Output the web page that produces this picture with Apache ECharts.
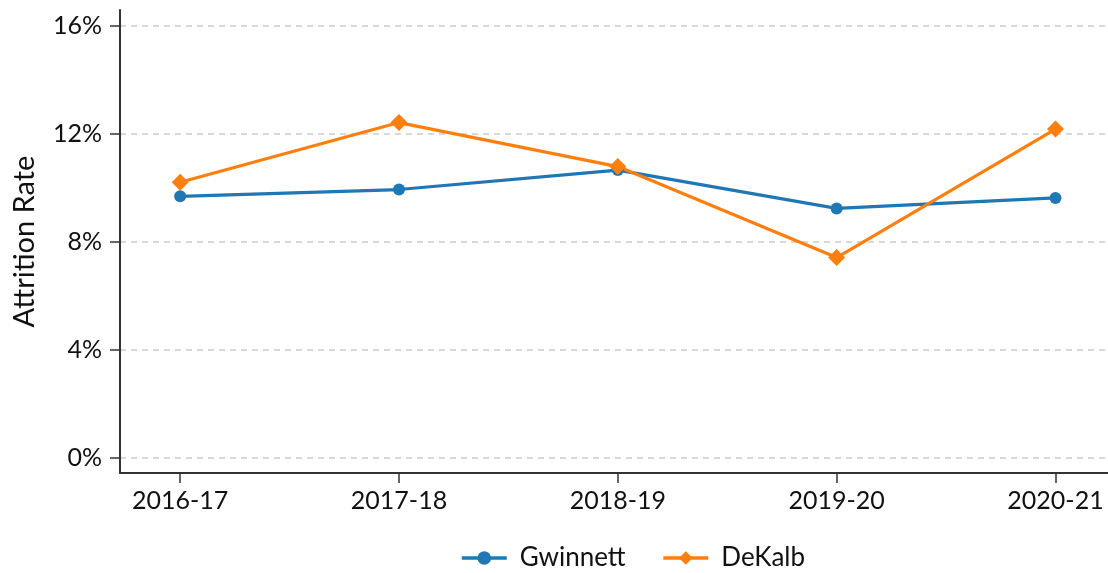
<!DOCTYPE html>
<html>
<head>
<meta charset="utf-8">
<script src="https://cdn.jsdelivr.net/npm/echarts@6/dist/echarts.min.js"></script>
<style>
  html, body { margin: 0; padding: 0; background: #fff; }
  #chart { width: 1108px; height: 573px; }
</style>
</head>
<body>
<div id="chart"></div>
<script>
  // school years on the x axis
  var years = ['2016-17', '2017-18', '2018-19', '2019-20', '2020-21']
  // attrition rate, in percent
  var gwinnett = [9.70, 9.95, 10.67, 9.25, 9.64]
  var dekalb = [10.22, 12.43, 10.80, 7.43, 12.19]
  var yTicks = [0, 4, 8, 12, 16]

  var font = 'Lato, "DejaVu Sans", sans-serif'
  var chart = echarts.init(document.getElementById('chart'))

  function pairs(vals) {
    return vals.map(function (v, i) { return [i, v] })
  }

  chart.setOption({
    animation: false,
    grid: { left: 120, right: 0, top: 10, bottom: 100 },
    xAxis: {
      type: 'value',
      min: -0.275,
      max: 4.24,
      axisLine: { onZero: false, lineStyle: { color: '#333', width: 2 } },
      axisTick: {
        show: true, length: 10, customValues: [0, 1, 2, 3, 4],
        lineStyle: { color: '#333', width: 1.5 }
      },
      axisLabel: {
        customValues: [0, 1, 2, 3, 4],
        margin: 15,
        color: '#111',
        fontSize: 25,
        fontFamily: font,
        formatter: function (v) { return years[Math.round(v)] }
      },
      splitLine: { show: false }
    },
    yAxis: {
      type: 'value',
      min: -0.55,
      max: 16.6,
      name: 'Attrition Rate',
      nameLocation: 'middle',
      nameGap: 81,
      nameTextStyle: { color: '#111', fontSize: 29, fontFamily: font },
      axisLine: { show: true, onZero: false, lineStyle: { color: '#333', width: 2 } },
      axisTick: {
        show: true, length: 10, customValues: yTicks,
        lineStyle: { color: '#333', width: 1.5 }
      },
      axisLabel: {
        customValues: yTicks,
        margin: 18,
        color: '#111',
        fontSize: 25,
        fontFamily: font,
        formatter: '{value}%'
      },
      splitLine: {
        show: true,
        lineStyle: { color: '#ccc', type: [6, 5], width: 1.5 }
      }
    },
    legend: {
      bottom: -3,
      left: 455,
      itemWidth: 45,
      itemHeight: 17,
      itemGap: 36,
      lineStyle: { width: 3.5 },
      textStyle: { color: '#111', fontSize: 26, fontFamily: font, padding: [0, 0, 0, 8] },
      data: ['Gwinnett', 'DeKalb']
    },
    series: [
      {
        name: 'Gwinnett',
        type: 'line',
        data: pairs(gwinnett),
        symbol: 'circle',
        symbolSize: 12,
        color: '#1f77b4',
        lineStyle: { width: 3.2 }
      },
      {
        name: 'DeKalb',
        type: 'line',
        data: pairs(dekalb),
        symbol: 'diamond',
        symbolSize: 17,
        color: '#ff7f0e',
        lineStyle: { width: 3.2 }
      }
    ]
  })
</script>
</body>
</html>
